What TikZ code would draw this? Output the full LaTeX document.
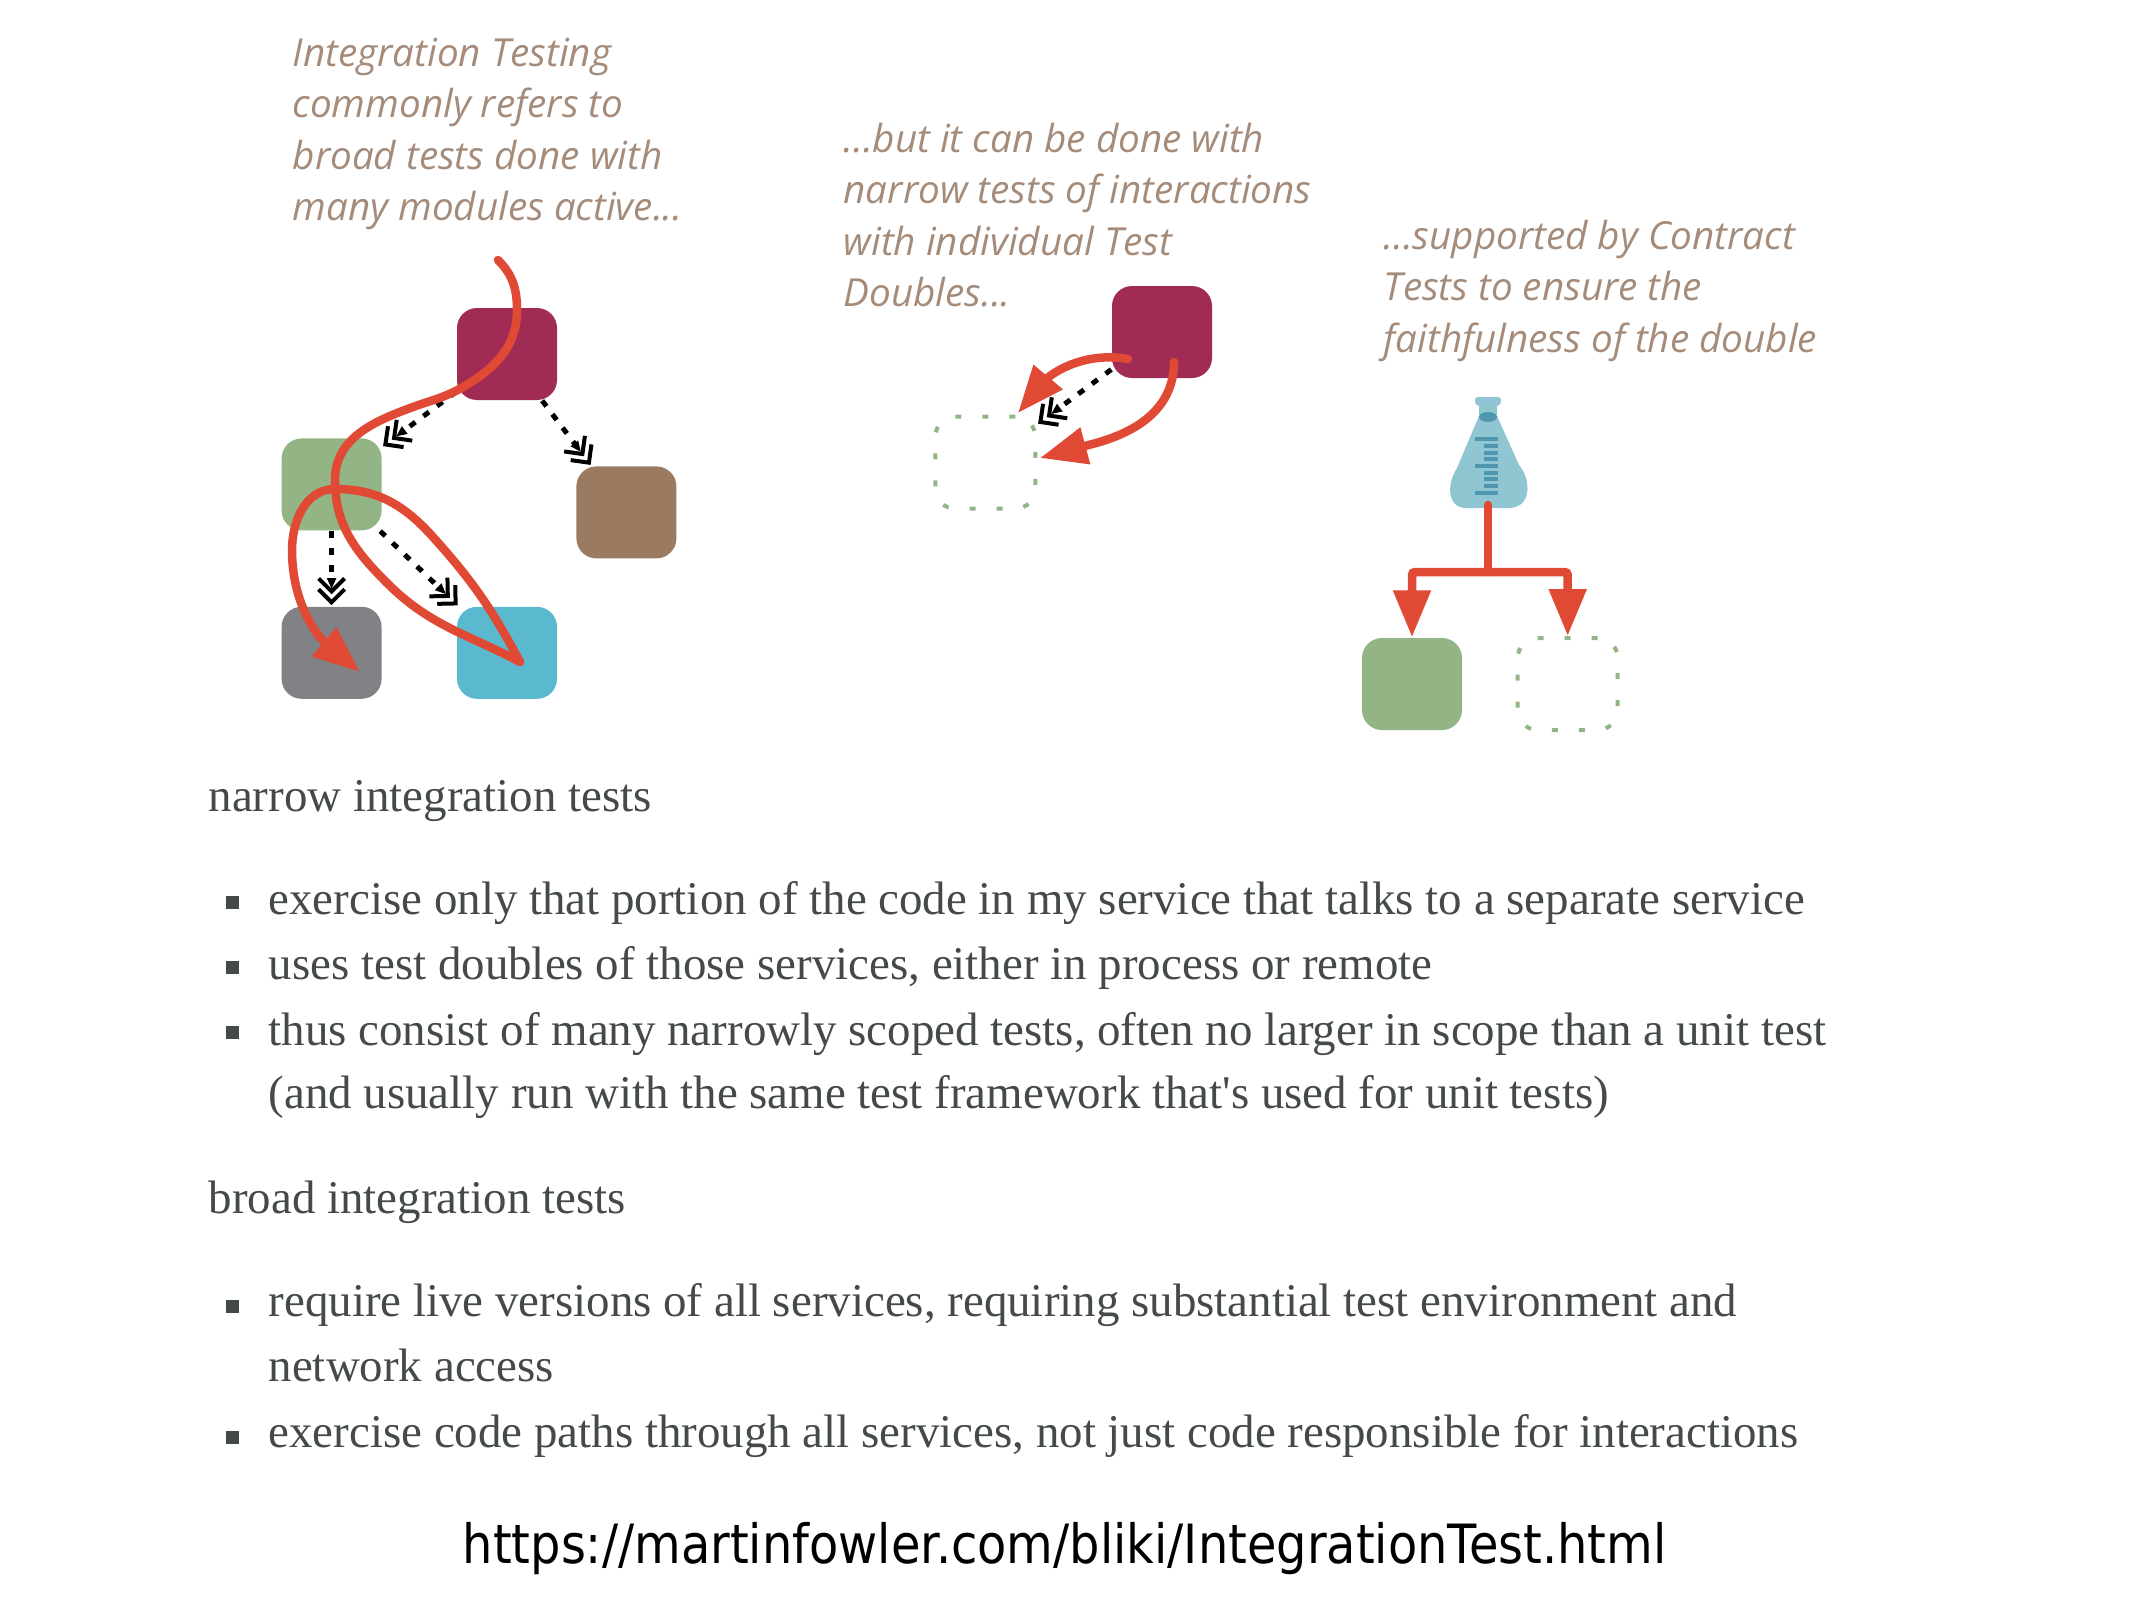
\documentclass[tikz,border=0pt]{standalone}
\usepackage{fontspec}
\setmainfont{Liberation Serif}
\newfontfamily\notefont{Open Sans}
\newfontfamily\linkfont[FakeStretch=0.885]{DejaVu Sans}
\usetikzlibrary{positioning,arrows.meta}
\definecolor{wine}{HTML}{A02C55}
\definecolor{sage}{HTML}{93B585}
\definecolor{bark}{HTML}{9A7B62}
\definecolor{slate}{HTML}{808285}
\definecolor{lagoon}{HTML}{5BB9CF}
\definecolor{flowred}{HTML}{E04A35}
\definecolor{notecolor}{HTML}{A58C7A}
\definecolor{bodycolor}{HTML}{444A48}
\definecolor{flaskfill}{HTML}{90C6D2}
\definecolor{flaskmark}{HTML}{4F97AE}
\tikzset{
  modbox/.style={rectangle, rounded corners=.2cm, minimum width=1cm, minimum height=.92cm, inner sep=0pt},
  doublebox/.style={modbox, draw=sage, line width=.04cm, dash pattern=on .06cm off .21cm},
  flow/.style={draw=flowred, line width=.085cm, line cap=round},
  flowtip/.style={flow, -{Triangle[length=.47cm, width=.36cm]}},
  dep/.style={line width=.05cm, dash pattern=on .07cm off .10cm,
    -{Straight Barb[length=.13cm, width=.26cm, line width=.04cm, sep=-.07cm]
      Straight Barb[length=.13cm, width=.26cm, line width=.04cm, sep=-.27cm]
      Triangle[length=.28cm, width=.06cm]}},
  note/.style={anchor=north west, align=left, inner sep=0pt, text=notecolor,
    font=\notefont\itshape\fontsize{11}{14.65}\selectfont},
  body/.style={anchor=base west, inner sep=0pt, text=bodycolor, font=\fontsize{13.35}{15}\selectfont},
  tick/.style={rectangle, fill=bodycolor, minimum size=.13cm, inner sep=0pt},
}
\begin{document}
\begin{tikzpicture}
        \useasboundingbox (0,0) rectangle (21.32,-16.02);

        \node[note] (n1) at (2.92,-.37) {Integration Testing\\commonly refers to\\broad tests done with\\many modules active...};
        \node[note] (n2) at (8.43,-1.22) {...but it can be done with\\narrow tests of interactions\\with individual Test\\Doubles...};
        \node[note] (n3) at (13.83,-2.19) {...supported by Contract\\Tests to ensure the\\faithfulness of the double};

        \node[modbox, fill=wine] (m1) at (5.07,-3.54) {};
        \node[modbox, fill=sage, below left=.37cm and .74cm of m1] (m2) {};
        \node[modbox, fill=bark, below right=.65cm and .18cm of m1] (m3) {};
        \node[modbox, fill=slate, below=.75cm of m2] (m4) {};
        \node[modbox, fill=lagoon, right=.74cm of m4] (m5) {};
        \coordinate (m0) at (4.98,-2.60);
        \coordinate (m6) at (5.20,-6.62);
        \coordinate (m7) at (3.60,-6.72);

        \draw[dep] (m1) -- (m2);
        \draw[dep] (m1) -- (m3);
        \draw[dep] (m2) -- (m4);
        \draw[dep] (m2) -- (m5);
        \draw[flow] (m0) to[out=-45, in=90] (5.17,-3.10) to[out=-90, in=30] (4.63,-3.87)
          to[out=210, in=20] (4.13,-4.07) to[out=200, in=90] (3.35,-4.80)
          to[out=-90, in=135] (3.87,-5.83) to[out=-45, in=152] (m6);
        \draw[flow] (m6) to[out=118, in=-48] (4.33,-5.37) to[out=132, in=0] (3.35,-4.89)
          to[out=180, in=90] (2.92,-5.50);
        \draw[flowtip] (2.92,-5.50) to[out=-90, in=140] (m7);

        \node[modbox, fill=wine] (d1) at (11.62,-3.32) {};
        \node[doublebox, below left=.36cm and .74cm of d1] (d2) {};
        \coordinate (d3) at (10.18,-4.13);
        \coordinate (d4) at (10.40,-4.58);
        \draw[dep] (d1) -- (d2);
        \draw[flowtip] (11.28,-3.59) to[out=170, in=50] (d3);
        \draw[flowtip] (11.74,-3.62) to[out=-90, in=15] (d4);

        \fill[flaskfill] (14.77,-3.97) -- (14.99,-3.97) .. controls (15.02,-3.97) and (15.02,-4.06) .. (14.97,-4.06)
          -- (14.97,-4.16) -- (15.19,-4.65) .. controls (15.32,-4.80) and (15.32,-5.10) .. (15.06,-5.08)
          -- (14.69,-5.08) .. controls (14.47,-5.10) and (14.46,-4.85) .. (14.57,-4.68)
          -- (14.79,-4.16) -- (14.79,-4.06) .. controls (14.74,-4.06) and (14.74,-3.97) .. (14.77,-3.97) -- cycle;
        \fill[flaskmark] (14.88,-4.17) ellipse (.09cm and .05cm);
        \draw[flaskmark, line width=.045cm] (14.75,-4.39) -- (14.98,-4.39) (14.75,-4.66) -- (14.98,-4.66) (14.75,-4.93) -- (14.98,-4.93)
          (14.84,-4.46) -- (14.98,-4.46) (14.84,-4.53) -- (14.98,-4.53) (14.84,-4.59) -- (14.98,-4.59)
          (14.84,-4.73) -- (14.98,-4.73) (14.84,-4.79) -- (14.98,-4.79) (14.84,-4.86) -- (14.98,-4.86);

        \node[modbox, fill=sage] (c1) at (14.12,-6.84) {};
        \node[doublebox, right=.53cm of c1] (c2) {};
        \coordinate (c3) at (14.88,-5.05);
        \coordinate (c4) at (14.88,-5.72);
        \draw[flow] (c3) -- (c4);
        \draw[flowtip, line cap=butt, rounded corners=.03cm] (c4) -| (c1.north);
        \draw[flowtip, line cap=butt, rounded corners=.03cm] (c4) -| (c2.north);

        \node[body] (t1) at (2.08,-8.11) {narrow integration tests};
        \node[tick] (b1) at (2.32,-9.02) {};
        \node[body] (t2) at (2.68,-9.14) {exercise only that portion of the code in my service that talks to a separate service};
        \node[tick] (b2) at (2.32,-9.67) {};
        \node[body] (t3) at (2.68,-9.79) {uses test doubles of those services, either in process or remote};
        \node[tick] (b3) at (2.32,-10.32) {};
        \node[body] (t4) at (2.68,-10.45) {thus consist of many narrowly scoped tests, often no larger in scope than a unit test};
        \node[body] (t5) at (2.68,-11.08) {(and usually run with the same test framework that\textquotesingle s used for unit tests)};
        \node[body] (t6) at (2.08,-12.13) {broad integration tests};
        \node[tick] (b4) at (2.32,-13.06) {};
        \node[body] (t7) at (2.68,-13.16) {require live versions of all services, requiring substantial test environment and};
        \node[body] (t8) at (2.68,-13.81) {network access};
        \node[tick] (b5) at (2.32,-14.37) {};
        \node[body] (t9) at (2.68,-14.47) {exercise code paths through all services, not just code responsible for interactions};

        \node[anchor=base west, inner sep=0pt, font=\linkfont\fontsize{15.4}{18}\selectfont] (u1) at (4.62,-15.63) {https://martinfowler.com/bliki/IntegrationTest.html};
\end{tikzpicture}
\end{document}
